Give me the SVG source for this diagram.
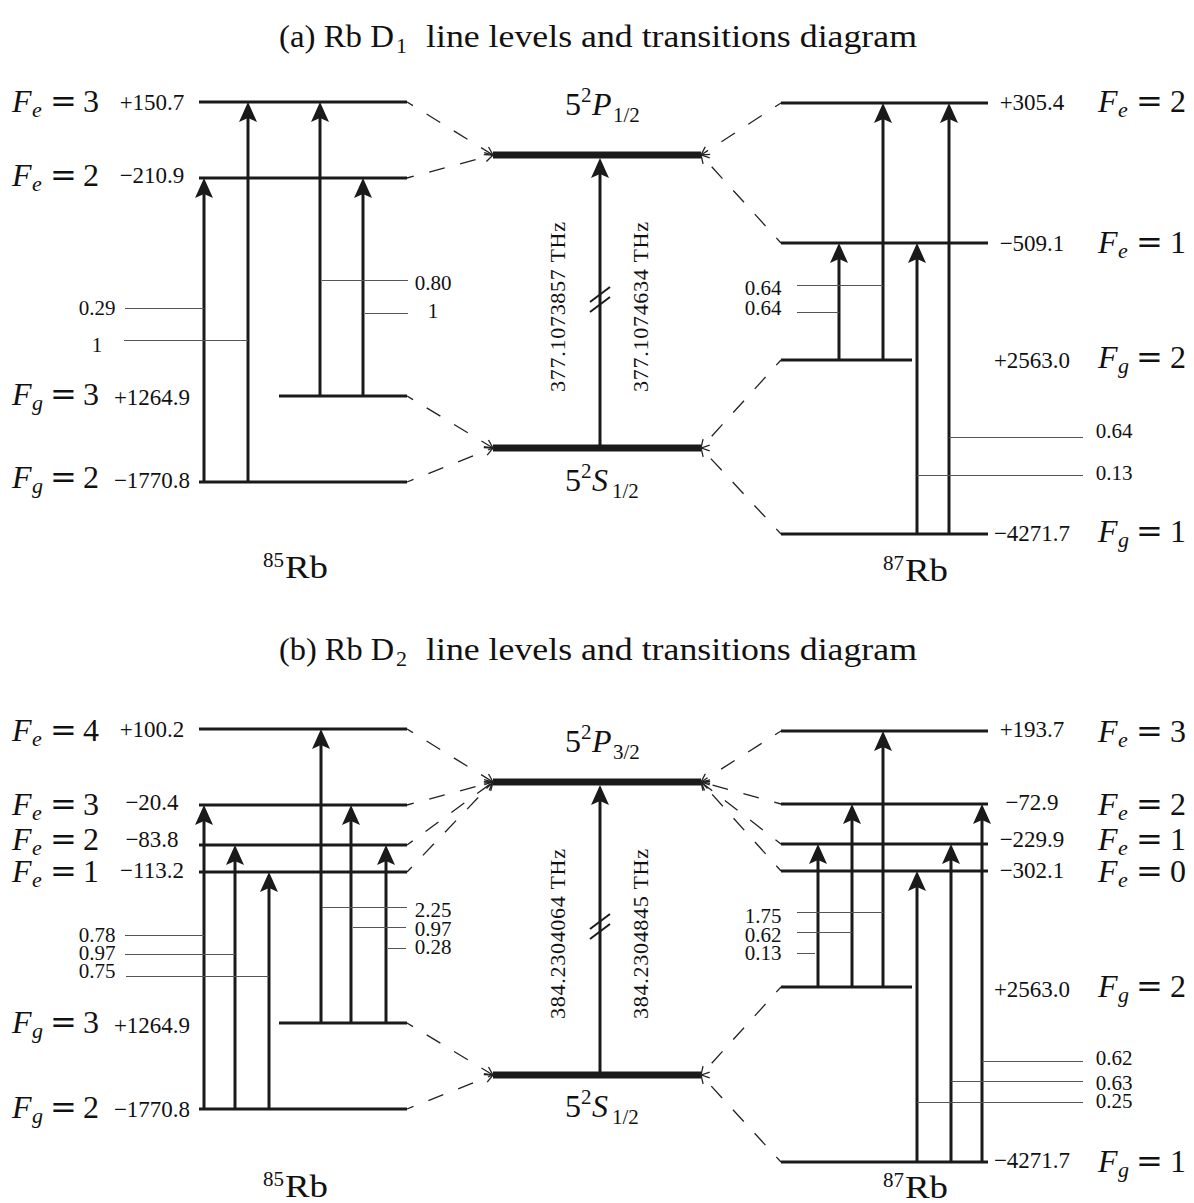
<svg xmlns="http://www.w3.org/2000/svg" width="1194" height="1203" viewBox="0 0 1194 1203">
<defs>
<style>
text{font-family:"Liberation Serif","Times New Roman",serif;fill:#111}
.lv{stroke:#1a1a1a;stroke-width:3}
.bar{stroke:#1a1a1a;stroke-width:7}
.tr{stroke:#1a1a1a;stroke-width:3;marker-end:url(#ah)}
.ld{stroke:#555;stroke-width:1}
.dl{stroke:#222;stroke-width:1.3;fill:none;stroke-dasharray:16 16;stroke-dashoffset:9;marker-end:url(#ch)}
.brk{stroke:#1a1a1a;stroke-width:2}
.L{font-size:32px}
.it{font-style:italic}
.sb{font-size:22px;font-style:italic}
.eq{font-family:"DejaVu Serif",serif}
.v{font-size:23px;text-anchor:middle}
.c{font-size:21px;text-anchor:middle}
.ti{font-size:32px}
.ss{font-size:21px}
.ts{font-size:22px}
.rot{font-size:22px;text-anchor:middle}
</style>
<marker id="ah" viewBox="-12 -10 24 20" refX="0" refY="0" markerWidth="24" markerHeight="20" markerUnits="userSpaceOnUse" orient="auto">
<path d="M10,0 L-10,-9 L-6,0 L-10,9 Z" fill="#1a1a1a"/>
</marker>
<marker id="ch" viewBox="-10 -6 12 12" refX="0" refY="0" markerWidth="12" markerHeight="12" markerUnits="userSpaceOnUse" orient="auto" style="overflow:visible">
<path d="M-8,-4.5 L0,0 L-8,4.5" fill="none" stroke="#222" stroke-width="1.3"/>
</marker>
</defs>
<rect width="1194" height="1203" fill="#fff"/>

<!-- Titles -->
<g id="title-a">
<text class="ti" x="279" y="47" textLength="115" lengthAdjust="spacingAndGlyphs">(a) Rb D</text>
<text class="ts" x="396" y="53">1</text>
<text class="ti" x="426" y="47" textLength="491" lengthAdjust="spacingAndGlyphs">line levels and transitions diagram</text>
</g>
<g id="title-b">
<text class="ti" x="279" y="660" textLength="115" lengthAdjust="spacingAndGlyphs">(b) Rb D</text>
<text class="ts" x="396" y="666">2</text>
<text class="ti" x="426" y="660" textLength="491" lengthAdjust="spacingAndGlyphs">line levels and transitions diagram</text>
</g>

<!-- ===== (a) 85Rb ===== -->
<g id="a85-Fe3"><line class="lv" x1="199" y1="102" x2="407" y2="102"/>
<text class="L"><tspan x="12" y="112" class="it">F</tspan><tspan x="32" y="117" class="sb">e</tspan><tspan x="50" y="112" class="eq">=</tspan><tspan x="83" y="112">3</tspan></text>
<text class="v" x="152" y="110">+150.7</text></g>
<g id="a85-Fe2"><line class="lv" x1="199" y1="178" x2="407" y2="178"/>
<text class="L"><tspan x="12" y="186" class="it">F</tspan><tspan x="32" y="191" class="sb">e</tspan><tspan x="50" y="186" class="eq">=</tspan><tspan x="83" y="186">2</tspan></text>
<text class="v" x="152" y="183">−210.9</text></g>
<g id="a85-Fg3"><line class="lv" x1="279" y1="396" x2="407" y2="396"/>
<text class="L"><tspan x="12" y="405" class="it">F</tspan><tspan x="32" y="410" class="sb">g</tspan><tspan x="50" y="405" class="eq">=</tspan><tspan x="83" y="405">3</tspan></text>
<text class="v" x="152" y="405">+1264.9</text></g>
<g id="a85-Fg2"><line class="lv" x1="199" y1="482" x2="407" y2="482"/>
<text class="L"><tspan x="12" y="488" class="it">F</tspan><tspan x="32" y="493" class="sb">g</tspan><tspan x="50" y="488" class="eq">=</tspan><tspan x="83" y="488">2</tspan></text>
<text class="v" x="152" y="488">−1770.8</text></g>
<g id="a85-label"><text class="ss" x="263" y="567">85</text><text class="ti" x="285" y="578" textLength="43" lengthAdjust="spacingAndGlyphs">Rb</text></g>

<!-- ===== (a) center ===== -->
<g id="a-P12"><line class="bar" x1="493" y1="155" x2="701" y2="155"/>
<text style="font-size:32px"><tspan x="565" y="115">5</tspan><tspan x="581" y="102" class="ss">2</tspan><tspan x="592" y="115" class="it">P</tspan><tspan x="613" y="122" class="ss">1/2</tspan></text></g>
<g id="a-S12"><line class="bar" x1="493" y1="448" x2="701" y2="448"/>
<text style="font-size:32px"><tspan x="565" y="491">5</tspan><tspan x="581" y="478" class="ss">2</tspan><tspan x="592" y="491" class="it">S</tspan><tspan x="612" y="498" class="ss">1/2</tspan></text></g>

<!-- ===== (a) 87Rb ===== -->
<g id="a87-Fe2"><line class="lv" x1="781" y1="103" x2="988" y2="103"/>
<text class="L"><tspan x="1098" y="112" class="it">F</tspan><tspan x="1118" y="117" class="sb">e</tspan><tspan x="1136" y="112" class="eq">=</tspan><tspan x="1170" y="112">2</tspan></text>
<text class="v" x="1032" y="110">+305.4</text></g>
<g id="a87-Fe1"><line class="lv" x1="781" y1="243" x2="988" y2="243"/>
<text class="L"><tspan x="1098" y="253" class="it">F</tspan><tspan x="1118" y="258" class="sb">e</tspan><tspan x="1136" y="253" class="eq">=</tspan><tspan x="1170" y="253">1</tspan></text>
<text class="v" x="1032" y="251">−509.1</text></g>
<g id="a87-Fg2"><line class="lv" x1="781" y1="360" x2="912" y2="360"/>
<text class="L"><tspan x="1098" y="368" class="it">F</tspan><tspan x="1118" y="373" class="sb">g</tspan><tspan x="1136" y="368" class="eq">=</tspan><tspan x="1170" y="368">2</tspan></text>
<text class="v" x="1032" y="368">+2563.0</text></g>
<g id="a87-Fg1"><line class="lv" x1="781" y1="534" x2="988" y2="534"/>
<text class="L"><tspan x="1098" y="542" class="it">F</tspan><tspan x="1118" y="547" class="sb">g</tspan><tspan x="1136" y="542" class="eq">=</tspan><tspan x="1170" y="542">1</tspan></text>
<text class="v" x="1032" y="541">−4271.7</text></g>
<g id="a87-label"><text class="ss" x="883" y="570">87</text><text class="ti" x="905" y="581" textLength="43" lengthAdjust="spacingAndGlyphs">Rb</text></g>

<!-- ===== (b) 85Rb ===== -->
<g id="b85-Fe4"><line class="lv" x1="199" y1="729" x2="407" y2="729"/>
<text class="L"><tspan x="12" y="741" class="it">F</tspan><tspan x="32" y="746" class="sb">e</tspan><tspan x="50" y="741" class="eq">=</tspan><tspan x="83" y="741">4</tspan></text>
<text class="v" x="152" y="737">+100.2</text></g>
<g id="b85-Fe3"><line class="lv" x1="199" y1="805" x2="407" y2="805"/>
<text class="L"><tspan x="12" y="815" class="it">F</tspan><tspan x="32" y="820" class="sb">e</tspan><tspan x="50" y="815" class="eq">=</tspan><tspan x="83" y="815">3</tspan></text>
<text class="v" x="152" y="810">−20.4</text></g>
<g id="b85-Fe2"><line class="lv" x1="199" y1="845" x2="407" y2="845"/>
<text class="L"><tspan x="12" y="850" class="it">F</tspan><tspan x="32" y="855" class="sb">e</tspan><tspan x="50" y="850" class="eq">=</tspan><tspan x="83" y="850">2</tspan></text>
<text class="v" x="152" y="847">−83.8</text></g>
<g id="b85-Fe1"><line class="lv" x1="199" y1="872" x2="407" y2="872"/>
<text class="L"><tspan x="12" y="882" class="it">F</tspan><tspan x="32" y="887" class="sb">e</tspan><tspan x="50" y="882" class="eq">=</tspan><tspan x="83" y="882">1</tspan></text>
<text class="v" x="152" y="878">−113.2</text></g>
<g id="b85-Fg3"><line class="lv" x1="279" y1="1023" x2="407" y2="1023"/>
<text class="L"><tspan x="12" y="1033" class="it">F</tspan><tspan x="32" y="1038" class="sb">g</tspan><tspan x="50" y="1033" class="eq">=</tspan><tspan x="83" y="1033">3</tspan></text>
<text class="v" x="152" y="1033">+1264.9</text></g>
<g id="b85-Fg2"><line class="lv" x1="199" y1="1109" x2="407" y2="1109"/>
<text class="L"><tspan x="12" y="1118" class="it">F</tspan><tspan x="32" y="1123" class="sb">g</tspan><tspan x="50" y="1118" class="eq">=</tspan><tspan x="83" y="1118">2</tspan></text>
<text class="v" x="152" y="1117">−1770.8</text></g>
<g id="b85-label"><text class="ss" x="263" y="1186">85</text><text class="ti" x="285" y="1197" textLength="43" lengthAdjust="spacingAndGlyphs">Rb</text></g>

<!-- ===== (b) center ===== -->
<g id="b-P32"><line class="bar" x1="493" y1="782" x2="701" y2="782"/>
<text style="font-size:32px"><tspan x="565" y="752">5</tspan><tspan x="581" y="739" class="ss">2</tspan><tspan x="592" y="752" class="it">P</tspan><tspan x="613" y="759" class="ss">3/2</tspan></text></g>
<g id="b-S12"><line class="bar" x1="493" y1="1075" x2="701" y2="1075"/>
<text style="font-size:32px"><tspan x="565" y="1117">5</tspan><tspan x="581" y="1104" class="ss">2</tspan><tspan x="592" y="1117" class="it">S</tspan><tspan x="612" y="1124" class="ss">1/2</tspan></text></g>

<!-- ===== (b) 87Rb ===== -->
<g id="b87-Fe3"><line class="lv" x1="781" y1="731" x2="988" y2="731"/>
<text class="L"><tspan x="1098" y="742" class="it">F</tspan><tspan x="1118" y="747" class="sb">e</tspan><tspan x="1136" y="742" class="eq">=</tspan><tspan x="1170" y="742">3</tspan></text>
<text class="v" x="1032" y="737">+193.7</text></g>
<g id="b87-Fe2"><line class="lv" x1="781" y1="804" x2="988" y2="804"/>
<text class="L"><tspan x="1098" y="815" class="it">F</tspan><tspan x="1118" y="820" class="sb">e</tspan><tspan x="1136" y="815" class="eq">=</tspan><tspan x="1170" y="815">2</tspan></text>
<text class="v" x="1032" y="810">−72.9</text></g>
<g id="b87-Fe1"><line class="lv" x1="781" y1="844" x2="988" y2="844"/>
<text class="L"><tspan x="1098" y="850" class="it">F</tspan><tspan x="1118" y="855" class="sb">e</tspan><tspan x="1136" y="850" class="eq">=</tspan><tspan x="1170" y="850">1</tspan></text>
<text class="v" x="1032" y="847">−229.9</text></g>
<g id="b87-Fe0"><line class="lv" x1="781" y1="871" x2="988" y2="871"/>
<text class="L"><tspan x="1098" y="882" class="it">F</tspan><tspan x="1118" y="887" class="sb">e</tspan><tspan x="1136" y="882" class="eq">=</tspan><tspan x="1170" y="882">0</tspan></text>
<text class="v" x="1032" y="878">−302.1</text></g>
<g id="b87-Fg2"><line class="lv" x1="781" y1="987" x2="912" y2="987"/>
<text class="L"><tspan x="1098" y="997" class="it">F</tspan><tspan x="1118" y="1002" class="sb">g</tspan><tspan x="1136" y="997" class="eq">=</tspan><tspan x="1170" y="997">2</tspan></text>
<text class="v" x="1032" y="997">+2563.0</text></g>
<g id="b87-Fg1"><line class="lv" x1="781" y1="1162" x2="988" y2="1162"/>
<text class="L"><tspan x="1098" y="1172" class="it">F</tspan><tspan x="1118" y="1177" class="sb">g</tspan><tspan x="1136" y="1172" class="eq">=</tspan><tspan x="1170" y="1172">1</tspan></text>
<text class="v" x="1032" y="1168">−4271.7</text></g>
<g id="b87-label"><text class="ss" x="883" y="1187">87</text><text class="ti" x="905" y="1198" textLength="43" lengthAdjust="spacingAndGlyphs">Rb</text></g>

<!-- ===== connectors ===== -->
<g id="connectors">
<!-- dashed correlation lines (a) -->
<path class="dl" d="M407,102 L493,155"/>
<path class="dl" d="M407,178 L493,155"/>
<path class="dl" d="M407,396 L493,448"/>
<path class="dl" d="M407,482 L493,448"/>
<path class="dl" d="M781,103 L701,155"/>
<path class="dl" d="M781,243 L701,155"/>
<path class="dl" d="M781,360 L701,448"/>
<path class="dl" d="M781,534 L701,448"/>
<!-- dashed correlation lines (b) -->
<path class="dl" d="M407,729 L493,782"/>
<path class="dl" d="M407,805 L493,782"/>
<path class="dl" d="M407,845 L493,782"/>
<path class="dl" d="M407,872 L493,782"/>
<path class="dl" d="M407,1023 L493,1075"/>
<path class="dl" d="M407,1109 L493,1075"/>
<path class="dl" d="M781,731 L701,782"/>
<path class="dl" d="M781,804 L701,782"/>
<path class="dl" d="M781,844 L701,782"/>
<path class="dl" d="M781,871 L701,782"/>
<path class="dl" d="M781,987 L701,1075"/>
<path class="dl" d="M781,1162 L701,1075"/>

<!-- center transitions -->
<line class="tr" x1="600" y1="448" x2="600" y2="168"/>
<line class="brk" x1="590" y1="302" x2="610" y2="287"/>
<line class="brk" x1="590" y1="312" x2="610" y2="297"/>
<text class="rot" transform="translate(565,307) rotate(-90)" textLength="170" lengthAdjust="spacing">377.1073857 THz</text>
<text class="rot" transform="translate(648,307) rotate(-90)" textLength="170" lengthAdjust="spacing">377.1074634 THz</text>
<line class="tr" x1="600" y1="1075" x2="600" y2="795"/>
<line class="brk" x1="590" y1="929" x2="610" y2="914"/>
<line class="brk" x1="590" y1="939" x2="610" y2="924"/>
<text class="rot" transform="translate(565,934) rotate(-90)" textLength="170" lengthAdjust="spacing">384.2304064 THz</text>
<text class="rot" transform="translate(648,934) rotate(-90)" textLength="170" lengthAdjust="spacing">384.2304845 THz</text>

<!-- (a) 85Rb transitions -->
<line class="tr" x1="204" y1="482" x2="204" y2="188"/>
<line class="tr" x1="248" y1="482" x2="248" y2="112"/>
<line class="tr" x1="320" y1="396" x2="320" y2="112"/>
<line class="tr" x1="363" y1="396" x2="363" y2="188"/>
<line class="ld" x1="125" y1="308.5" x2="204" y2="308.5"/>
<line class="ld" x1="124" y1="340.5" x2="248" y2="340.5"/>
<line class="ld" x1="322" y1="280.5" x2="408" y2="280.5"/>
<line class="ld" x1="365" y1="313.5" x2="408" y2="313.5"/>
<text class="c" x="97" y="315">0.29</text>
<text class="c" x="97" y="352">1</text>
<text class="c" x="433" y="290">0.80</text>
<text class="c" x="433" y="318">1</text>

<!-- (a) 87Rb transitions -->
<line class="tr" x1="839" y1="360" x2="839" y2="253"/>
<line class="tr" x1="883" y1="360" x2="883" y2="113"/>
<line class="tr" x1="917" y1="534" x2="917" y2="253"/>
<line class="tr" x1="949" y1="534" x2="949" y2="113"/>
<line class="ld" x1="797" y1="285.5" x2="883" y2="285.5"/>
<line class="ld" x1="797" y1="312.5" x2="839" y2="312.5"/>
<line class="ld" x1="949" y1="437.5" x2="1083" y2="437.5"/>
<line class="ld" x1="917" y1="475.5" x2="1083" y2="475.5"/>
<text class="c" x="763" y="295">0.64</text>
<text class="c" x="763" y="315">0.64</text>
<text class="c" x="1114" y="438">0.64</text>
<text class="c" x="1114" y="480">0.13</text>

<!-- (b) 85Rb transitions -->
<line class="tr" x1="204" y1="1109" x2="204" y2="815"/>
<line class="tr" x1="235" y1="1109" x2="235" y2="855"/>
<line class="tr" x1="269" y1="1109" x2="269" y2="882"/>
<line class="tr" x1="321" y1="1023" x2="321" y2="739"/>
<line class="tr" x1="351" y1="1023" x2="351" y2="815"/>
<line class="tr" x1="386" y1="1023" x2="386" y2="855"/>
<line class="ld" x1="125" y1="935.5" x2="204" y2="935.5"/>
<line class="ld" x1="125" y1="954.5" x2="235" y2="954.5"/>
<line class="ld" x1="126" y1="976.5" x2="269" y2="976.5"/>
<line class="ld" x1="322" y1="907.5" x2="407" y2="907.5"/>
<line class="ld" x1="353" y1="927.5" x2="406" y2="927.5"/>
<line class="ld" x1="388" y1="948.5" x2="406" y2="948.5"/>
<text class="c" x="97" y="942">0.78</text>
<text class="c" x="97" y="960">0.97</text>
<text class="c" x="97" y="978">0.75</text>
<text class="c" x="433" y="917">2.25</text>
<text class="c" x="433" y="936">0.97</text>
<text class="c" x="433" y="954">0.28</text>

<!-- (b) 87Rb transitions -->
<line class="tr" x1="818" y1="987" x2="818" y2="854"/>
<line class="tr" x1="852" y1="987" x2="852" y2="814"/>
<line class="tr" x1="883" y1="987" x2="883" y2="741"/>
<line class="tr" x1="917" y1="1162" x2="917" y2="881"/>
<line class="tr" x1="951" y1="1162" x2="951" y2="854"/>
<line class="tr" x1="982" y1="1162" x2="982" y2="814"/>
<line class="ld" x1="797" y1="912.5" x2="883" y2="912.5"/>
<line class="ld" x1="797" y1="932.5" x2="852" y2="932.5"/>
<line class="ld" x1="797" y1="953.5" x2="815" y2="953.5"/>
<line class="ld" x1="982" y1="1061.5" x2="1083" y2="1061.5"/>
<line class="ld" x1="951" y1="1081.5" x2="1083" y2="1081.5"/>
<line class="ld" x1="917" y1="1102.5" x2="1083" y2="1102.5"/>
<text class="c" x="763" y="923">1.75</text>
<text class="c" x="763" y="942">0.62</text>
<text class="c" x="763" y="960">0.13</text>
<text class="c" x="1114" y="1065">0.62</text>
<text class="c" x="1114" y="1090">0.63</text>
<text class="c" x="1114" y="1108">0.25</text>
</g>
</svg>
